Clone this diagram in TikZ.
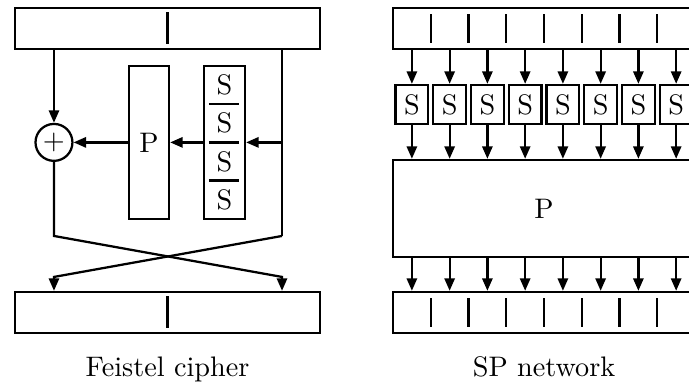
\documentclass[tikz,border=0pt]{standalone}
\usepackage{amsmath,amssymb}
\usetikzlibrary{positioning,arrows.meta}

\tikzset{
	>={Triangle[length=4.4pt,width=3.6pt]},
	word/.style={draw,thick,minimum width=3.8cm,minimum height=0.51cm,inner sep=0pt},
	sbox/.style={draw,thick,minimum width=0.41cm,minimum height=0.486cm,inner sep=0pt},
	xor/.style={draw,thick,circle,minimum size=0.46cm,inner sep=0pt}
}

\begin{document}
\begin{tikzpicture}[thick]
		\clip (0,0) rectangle (8.578,4.793);
		% Feistel cipher
		\node[word] (fin) at (2.086,4.439) {};
		\node[word] (fout) at (2.086,0.903) {};
		\draw ([yshift=-2pt]fin.north) -- ([yshift=2pt]fin.south);
		\draw ([yshift=-2pt]fout.north) -- ([yshift=2pt]fout.south);
		\node[xor] (add) at (0.672,3.02) {$+$};
		\node[draw,thick,minimum width=0.5cm,minimum height=1.905cm,inner sep=0pt] (fP) at (1.855,3.02) {P};
		\node[draw,thick,minimum width=0.51cm,minimum height=1.905cm,inner sep=0pt] (fS) at (2.795,3.02) {};
		\foreach \i in {1,...,4}
			\node (fs\i) at (2.795,4.21-0.476*\i) {S};
		\foreach \y in {3.496,3.02,2.544}
			\draw (2.602,\y) -- (2.976,\y);
		\coordinate (lt) at (0.672,4.183);
		\coordinate (rt) at (3.511,4.183);
		\coordinate (lb) at (0.672,1.855);
		\coordinate (rb) at (3.511,1.855);
		\coordinate (lo) at (0.672,1.345);
		\coordinate (ro) at (3.511,1.345);
		\draw[->] (lt) -- (add);
		\draw (rt) -- (rb);
		\draw[->] (rt |- fS.east) -- (fS.east);
		\draw[->] (fS.west) -- (fP.east);
		\draw[->] (fP.west) -- (add.east);
		\draw[->] (add) -- (lb) -- (ro) -- (ro |- fout.north);
		\draw[->] (rb) -- (lo) -- (lo |- fout.north);
		\node[anchor=base] (fcap) at (2.086,0.1) {Feistel cipher};
		% SP network
		\node[word,minimum width=3.76cm] (sin) at (6.773,4.439) {};
		\node[word,minimum width=3.76cm] (sout) at (6.773,0.903) {};
		\node[word,minimum width=3.76cm,minimum height=1.207cm] (sP) at (6.773,2.198) {P};
		\foreach \k in {1,...,7}{
			\draw (4.893+0.47*\k,4.258) -- (4.893+0.47*\k,4.619);
			\draw (4.893+0.47*\k,0.722) -- (4.893+0.47*\k,1.083);
		}
		\foreach \i in {1,...,8}{
			\node[sbox] (s\i) at (4.658+0.47*\i,3.492) {S};
			\draw[->] (s\i |- sin.south) -- (s\i.north);
			\draw[->] (s\i.south) -- (s\i |- sP.north);
			\draw[->] (s\i |- sP.south) -- (s\i |- sout.north);
		}
		\node[anchor=base] (scap) at (6.773,0.1) {SP network};
	\end{tikzpicture}
\end{document}
